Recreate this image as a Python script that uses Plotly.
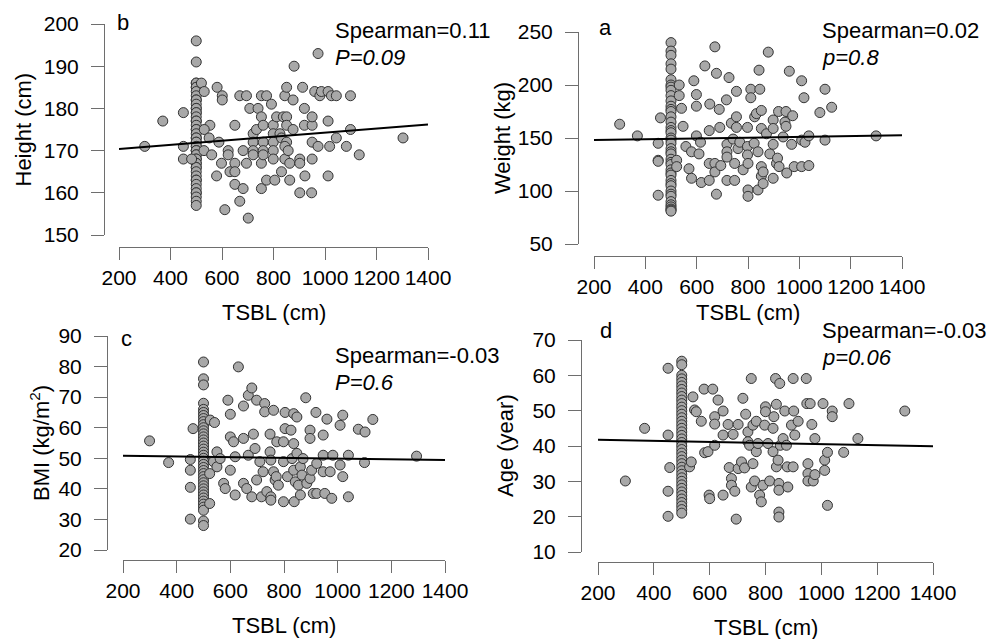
import plotly.graph_objects as go

# ---- data ----
# panel b: TSBL vs height
tsbl_b = [500, 500, 500, 500, 500, 500, 500, 500, 500, 500, 500, 500, 500, 500, 500, 500, 500, 500, 500, 500,
          500, 500, 500, 500, 500, 500, 500, 500, 500, 500, 500, 500, 500, 500, 500, 500, 500, 500, 500, 500,
          500, 500, 500, 500, 500, 500, 500, 500, 500, 500,
          300, 370, 450, 450, 450, 482, 520, 531, 553, 531, 550, 530, 560, 581, 601, 601, 588, 579, 611, 598,
          624, 624, 631, 650, 650, 650, 650, 669, 695, 682, 669, 702, 695, 682, 708, 740, 753, 721, 721, 721,
          721, 734, 753, 773, 753, 753, 760, 760, 760, 760, 773, 792, 799, 799, 799, 799, 799, 805, 812, 825,
          831, 831, 838, 844, 851, 851, 851, 851, 844, 844, 857, 863, 863, 876, 880, 876, 902, 902, 902, 913,
          920, 920, 922, 948, 950, 950, 950, 950, 960, 973, 973, 980, 986, 1012, 1012, 1012, 1018, 1025, 1044, 1044,
          1083, 1099, 1099, 1133, 1303]
height_b = [196, 191, 186, 186, 185, 185, 184, 183, 182, 182, 181, 180, 180, 179, 179, 178, 177, 177, 176, 175,
            175, 174, 173, 173, 172, 172, 171, 171, 170, 170, 170, 169, 169, 168, 168, 167, 167, 166, 166, 165,
            164, 163, 163, 162, 161, 160, 160, 159, 158, 157,
            171, 177, 179, 171, 168, 168, 186, 184, 176, 175, 173, 170, 169, 185, 183, 182, 172, 164, 156, 167,
            170, 169, 165, 167, 165, 176, 162, 183, 183, 161, 158, 154, 167, 170, 180, 180, 178, 174, 172, 170,
            169, 175, 183, 183, 161, 167, 176, 172, 170, 169, 163, 181, 176, 174, 172, 170, 168, 163, 178, 174,
            173, 165, 178, 183, 185, 178, 176, 172, 171, 168, 170, 163, 167, 182, 190, 175, 168, 167, 160, 185,
            180, 176, 164, 160, 168, 172, 176, 178, 184, 193, 171, 183, 184, 184, 177, 164, 171, 183, 183, 173,
            171, 183, 175, 169, 173]
fit_x_b = [200, 1400]
fit_y_b = [170.4, 176.2]

# panel a: TSBL vs weight
tsbl_a = [500, 500, 500, 500, 500, 500, 500, 500, 500, 500, 500, 500, 500, 500, 500, 500, 500, 500, 500, 500,
          500, 500, 500, 500, 500, 500, 500, 500, 500, 500, 500, 500, 500, 500, 500, 500, 500, 500, 500, 500,
          500, 500, 500,
          300, 369, 450, 450, 450, 450, 459, 532, 532, 541, 547, 522, 522, 558, 570, 580, 580, 589, 599, 599,
          599, 609, 615, 618, 632, 649, 649, 649, 651, 671, 671, 671, 677, 677, 688, 690, 694, 716, 718, 718,
          718, 718, 726, 735, 742, 748, 748, 755, 755, 755, 761, 768, 781, 798, 798, 798, 800, 800, 800, 811,
          811, 824, 826, 833, 839, 839, 843, 846, 852, 852, 852, 852, 859, 859, 872, 879, 885, 898, 898, 898,
          898, 911, 915, 919, 921, 937, 944, 948, 948, 951, 961, 974, 970, 980, 1009, 1009, 1009, 1018, 1022, 1037,
          1037, 1080, 1100, 1100, 1126, 1299]
weight_a = [240, 232, 228, 220, 215, 205, 200, 198, 195, 190, 185, 180, 177, 175, 170, 165, 160, 157, 155, 150,
            148, 145, 140, 137, 135, 130, 127, 125, 120, 117, 115, 110, 107, 105, 100, 97, 95, 90, 87, 85,
            83, 82, 81,
            163, 152, 145, 129, 128, 96, 169, 200, 190, 178, 161, 129, 123, 142, 121, 137, 112, 204, 191, 180,
            152, 135, 146, 108, 218, 157, 126, 110, 182, 236, 126, 118, 211, 97, 177, 160, 124, 186, 144, 137,
            132, 110, 207, 164, 149, 110, 126, 194, 170, 160, 140, 146, 120, 160, 142, 134, 126, 101, 95, 196,
            188, 145, 170, 173, 137, 101, 214, 196, 176, 159, 123, 114, 118, 107, 154, 231, 135, 167, 159, 144,
            112, 126, 131, 175, 123, 151, 165, 175, 161, 117, 213, 171, 144, 123, 204, 148, 123, 188, 146, 152,
            124, 174, 196, 148, 179, 152]
fit_x_a = [200, 1400]
fit_y_a = [148, 152.5]

# panel c: TSBL vs BMI
tsbl_c = [500, 500, 500, 500, 500, 500, 500, 500, 500, 500, 500, 500, 500, 500, 500, 500, 500, 500, 500, 500,
          500, 500, 500, 500, 500, 500, 500, 500, 500, 500, 500, 500, 500, 500, 500, 500, 500, 500, 500, 500,
          299, 370, 451, 451, 451, 451, 461, 525, 541, 523, 523, 537, 550, 550, 562, 575, 581, 591, 600, 600,
          600, 612, 618, 618, 630, 649, 649, 649, 661, 667, 667, 680, 680, 686, 692, 698, 698, 710, 716, 722,
          728, 736, 728, 748, 748, 751, 751, 751, 761, 761, 767, 771, 773, 779, 798, 798, 798, 804, 804, 813,
          826, 830, 836, 836, 836, 838, 842, 848, 848, 854, 861, 861, 867, 871, 881, 885, 897, 897, 897, 903,
          909, 922, 922, 919, 946, 946, 946, 952, 960, 972, 978, 982, 1009, 1009, 1019, 1019, 1040, 1040, 1077, 1102,
          1100, 1131, 1294]
bmi_c = [81.5, 76, 74, 68, 66, 65, 64, 63, 62, 61, 60, 59, 58, 57, 56, 55, 54, 53, 52, 51,
         50, 49, 48, 47, 46, 45, 44, 43, 42, 41, 40, 39, 38, 37, 36, 35, 34, 33, 29.5, 28,
         55.7, 48.6, 30.1, 40.5, 46.1, 49.6, 59.7, 62.5, 61.7, 35.2, 45, 48.9, 52.1, 47.2, 49.9, 41.8, 40.1, 69, 64.4, 57,
         46.1, 55.4, 50.5, 38, 79.9, 67.1, 56.5, 41.8, 40.1, 70.6, 51, 73, 37.4, 57.9, 53.2, 69, 42.9, 48.9, 37.4, 45.6,
         67.9, 39.1, 65.2, 57.9, 52.1, 49.4, 37.4, 36.3, 65.7, 45.6, 42.9, 44, 55.4, 41.2, 55.4, 48.9, 35.8, 65, 59.7, 44,
         59.2, 49.9, 64.6, 54.8, 46.1, 35.8, 42.3, 63.5, 51.6, 41.2, 38, 47.2, 44.5, 49.9, 69.8, 41.8, 43.4, 59.2, 56.5, 46.1,
         38.5, 48.3, 38.5, 65, 57.6, 51, 45.6, 38.5, 62.8, 45.6, 36.9, 51, 60.8, 47.8, 64.1, 44, 51, 37.4, 59.5, 58.6,
         48.6, 62.7, 50.7]
fit_x_c = [200, 1400]
fit_y_c = [50.8, 49.4]

# panel d: TSBL vs age
tsbl_d = [500, 500, 500, 500, 500, 500, 500, 500, 500, 500, 500, 500, 500, 500, 500, 500, 500, 500, 500, 500,
          500, 500, 500, 500, 500, 500, 500, 500, 500, 500, 500, 500, 500, 500, 500, 500, 500, 500, 500, 500,
          500, 500,
          298, 367, 451, 451, 457, 451, 451, 528, 534, 540, 546, 552, 570, 580, 582, 594, 598, 600, 611, 618,
          618, 618, 630, 648, 648, 648, 666, 670, 678, 678, 684, 690, 695, 702, 702, 714, 719, 725, 729, 737,
          737, 743, 749, 749, 755, 755, 761, 767, 767, 773, 779, 785, 791, 797, 800, 800, 809, 815, 827, 827,
          830, 836, 839, 839, 845, 848, 848, 848, 848, 851, 853, 863, 869, 875, 878, 880, 893, 899, 899, 901,
          905, 917, 946, 948, 952, 952, 952, 960, 966, 971, 977, 977, 1006, 1012, 1012, 1022, 1022, 1039, 1039, 1080,
          1099, 1131, 1299]
age_d = [64, 63, 60, 59, 58, 57, 56, 55, 54, 53, 52, 51, 50, 49, 48, 47, 46, 45, 44, 43,
         42, 41, 40, 39, 38, 37, 36, 35, 34, 33, 32, 31, 30, 29, 28, 27, 26, 25, 24, 23,
         22, 21,
         30.1, 45, 62, 43.1, 33.9, 27.2, 20.1, 34.1, 35.5, 53.9, 50.2, 49.7, 47, 56.1, 38.1, 38.4, 26.1, 25.1, 56.1, 48.3,
         46.2, 40.2, 53, 49.9, 43.1, 26.1, 46.1, 33.9, 30.8, 28.9, 43.3, 27.2, 19.3, 46.1, 33.6, 35.5, 53.5, 33.8, 49, 44,
         41.2, 40.2, 59.1, 28.4, 45.9, 35, 30.1, 47, 38.4, 40.7, 26.1, 24.2, 28.9, 45.9, 51.1, 49.7, 40.7, 30.1, 45, 38.4,
         48.3, 59.1, 51.8, 34.1, 36, 29.4, 27.5, 21.3, 19.9, 57.7, 40.2, 42.1, 49.9, 40.2, 34.1, 28.4, 45.9, 59.1, 34.1, 49.9,
         43.1, 47, 59.1, 52, 35, 32.2, 30.1, 52, 46.1, 30.1, 31.9, 42.1, 52, 36, 33.1, 23.2, 38.2, 49.9, 48.3, 38.2,
         52, 42.1, 49.9]
fit_x_d = [200, 1400]
fit_y_d = [41.8, 39.9]

x_ticks = [200, 400, 600, 800, 1000, 1200, 1400]

# ---- layout ----
# geometry below is in screen pixels of the 999x639 window; the page body
# has an 8px margin, so the figure is 8px smaller and everything is shifted
OFF = 8
W, H = 999 - OFF, 639 - OFF
FONT = "Liberation Sans, Arial, sans-serif"


def px(x):
    return (x - OFF) / W


def py(y):
    return 1 - (y - OFF) / H


panels = [
    dict(n="", x=tsbl_b, y=height_b, fx=fit_x_b, fy=fit_y_b, yt=[150, 160, 170, 180, 190, 200],
         ytitle="Height (cm)", letter="b", s1="Spearman=0.11", s2="<i>P=0.09</i>",
         x0=119, x1=428, ytop=24, ybot=235, xline=247, yline=104,
         ytitle_x=23, xtitle_y=312, letter_xy=(123, 22), stat_xy=(333, 30)),
    dict(n="2", x=tsbl_a, y=weight_a, fx=fit_x_a, fy=fit_y_a, yt=[50, 100, 150, 200, 250],
         ytitle="Weight (kg)", letter="a", s1="Spearman=0.02", s2="<i>p=0.8</i>",
         x0=594, x1=902, ytop=32, ybot=244, xline=256, yline=578,
         ytitle_x=502, xtitle_y=312, letter_xy=(605, 27), stat_xy=(820, 30)),
    dict(n="3", x=tsbl_c, y=bmi_c, fx=fit_x_c, fy=fit_y_c, yt=[20, 30, 40, 50, 60, 70, 80, 90],
         ytitle="BMI (kg/m<sup>2</sup>)", letter="c", s1="Spearman=-0.03", s2="<i>P=0.6</i>",
         x0=123, x1=445, ytop=336, ybot=550, xline=560, yline=107,
         ytitle_x=40, xtitle_y=625, letter_xy=(126, 338), stat_xy=(333, 355)),
    dict(n="4", x=tsbl_d, y=age_d, fx=fit_x_d, fy=fit_y_d, yt=[10, 20, 30, 40, 50, 60, 70],
         ytitle="Age (year)", letter="d", s1="Spearman=-0.03", s2="<i>p=0.06</i>",
         x0=598, x1=933, ytop=340, ybot=552, xline=562, yline=581,
         ytitle_x=505, xtitle_y=627, letter_xy=(606, 330), stat_xy=(820, 330)),
]

fig = go.Figure()
annotations = []
axis_col = "#6e6e6e"

for p in panels:
    xa, ya = "x" + p["n"], "y" + p["n"]
    fig.add_trace(go.Scatter(
        x=p["x"], y=p["y"], mode="markers", xaxis=xa, yaxis=ya, cliponaxis=False,
        marker=dict(size=10, color="#a8a8a8", line=dict(color="#333333", width=1)),
        showlegend=False))
    fig.add_trace(go.Scatter(
        x=p["fx"], y=p["fy"], mode="lines", xaxis=xa, yaxis=ya, cliponaxis=False,
        line=dict(color="black", width=2), showlegend=False))

    fig.layout["xaxis" + p["n"]] = dict(
        domain=[px(p["x0"]), px(p["x1"])], range=[200, 1400], tickvals=x_ticks,
        anchor="free", position=py(p["xline"]), showline=True, linecolor=axis_col, linewidth=1,
        ticks="outside", ticklen=12, tickcolor=axis_col, showgrid=False, zeroline=False,
        automargin=False, tickfont=dict(size=21, color="black"), ticklabelstandoff=0)
    fig.layout["yaxis" + p["n"]] = dict(
        domain=[py(p["ybot"]), py(p["ytop"])], range=[p["yt"][0], p["yt"][-1]], tickvals=p["yt"],
        anchor="free", position=px(p["yline"]), showline=True, linecolor=axis_col, linewidth=1,
        ticks="outside", ticklen=13, tickcolor=axis_col, showgrid=False, zeroline=False,
        automargin=False, tickfont=dict(size=21, color="black"), ticklabelstandoff=8)

    annotations += [
        dict(text=p["ytitle"], x=px(p["ytitle_x"]), y=py((p["ytop"] + p["ybot"]) / 2), textangle=-90,
             font=dict(size=22)),
        dict(text="TSBL (cm)", x=px((p["x0"] + p["x1"]) / 2), y=py(p["xtitle_y"]), font=dict(size=22)),
        dict(text=p["letter"], x=px(p["letter_xy"][0]), y=py(p["letter_xy"][1]), xanchor="center",
             font=dict(size=22)),
        dict(text=p["s1"], x=px(p["stat_xy"][0]), y=py(p["stat_xy"][1]), xanchor="left", font=dict(size=22)),
        dict(text=p["s2"], x=px(p["stat_xy"][0]), y=py(p["stat_xy"][1] + 27), xanchor="left",
             font=dict(size=22)),
    ]

for a in annotations:
    a.update(xref="paper", yref="paper", showarrow=False)
    a.setdefault("xanchor", "center")
    a["yanchor"] = "middle"

fig.update_layout(
    width=W, height=H, margin=dict(l=0, r=0, t=0, b=0, pad=0, autoexpand=False),
    paper_bgcolor="white", plot_bgcolor="white",
    font=dict(family=FONT, color="black"),
    annotations=annotations)

fig.write_html("out.html")
